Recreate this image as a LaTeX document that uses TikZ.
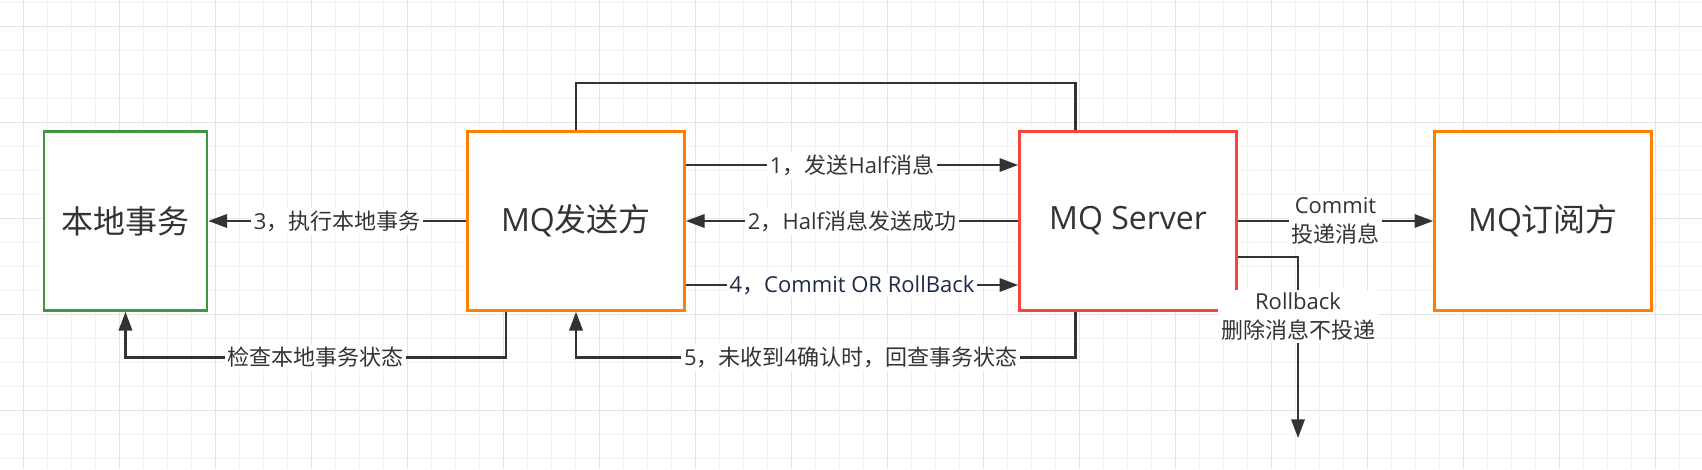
\documentclass[tikz,border=0pt]{standalone}
\usepackage{fontspec}
\setmainfont{Open Sans}
\newfontfamily\cjk{Noto Sans CJK SC}
\usetikzlibrary{arrows.meta}

\definecolor{linie}{RGB}{51,51,51}
\definecolor{gruen}{RGB}{64,150,64}
\definecolor{kastenorange}{RGB}{255,128,0}
\definecolor{rot}{RGB}{245,70,60}
\definecolor{blau}{RGB}{30,42,70}
\definecolor{gitterA}{RGB}{242,242,242}
\definecolor{gitterB}{RGB}{227,227,227}

\tikzset{
  kasten/.style={draw, line width=2pt, fill=white, text=linie, inner sep=0pt,
    minimum width=162.75pt, minimum height=134.25pt,
    font=\fontsize{24}{28}\selectfont},
  lab/.style={fill=white, text=linie, inner sep=2pt,
    font=\fontsize{16.5}{21.5}\selectfont},
  verb/.style={draw=linie, line width=1.7pt},
  pfeil/.style={verb, -{Triangle[length=14pt,width=10pt]}},
  gitter/.style={draw=gitterA, line width=0.75pt},
  gitterfett/.style={draw=gitterB, line width=0.75pt}
}

\begin{document}
\begin{tikzpicture}[x=0.75pt, y=-0.75pt]
		% Hintergrund
		\fill[white] (0,0) rectangle (1702,469);
		\useasboundingbox (0,0) rectangle (1702,469);
		
		% Gitter
		\foreach \i in {0,...,69}
			\draw[gitter] (23.5+24*\i,0) -- (23.5+24*\i,469);
		\foreach \j in {0,...,19}
			\draw[gitter] (0,2.3+24*\j) -- (1702,2.3+24*\j);
		\foreach \i in {0,...,17}
			\draw[gitterfett] (23.5+96*\i,0) -- (23.5+96*\i,469);
		\foreach \j in {0,...,4}
			\draw[gitterfett] (0,26.3+96*\j) -- (1702,26.3+96*\j);
		
		% Kaesten
		\node[kasten, draw=gruen, minimum width=122.25pt] (lokal) at (125.5,221) {\cjk 本地事务};
		\node[kasten, draw=kastenorange] (sender) at (576,221) {MQ{\cjk 发送方}};
		\node[kasten, draw=rot] (server) at (1128,221) {MQ Server};
		\node[kasten, draw=kastenorange] (abo) at (1543,221) {MQ{\cjk 订阅方}};
		
		% Hilfspunkte
		\coordinate (oben) at (1075.5,83);
		\coordinate (lv1) at (0,165);
		\coordinate (lv4) at (0,285);
		\coordinate (rb) at (0,257);
		\coordinate (unten) at (1075.5,357.5);
		\coordinate (pk) at (506,357.5);
		\coordinate (ende) at (1298,438);
		
		% Verbindung oben
		\draw[verb] (sender.north) |- (oben) -- (server.north -| oben);
		
		% Pfeile zwischen Sender und Server
		\draw[pfeil] (sender.east |- lv1) -- node[lab] {1{\cjk ，发送}Half{\cjk 消息}} (server.west |- lv1);
		\draw[pfeil] (server.west) -- node[lab] {2{\cjk ，}Half{\cjk 消息发送成功}} (sender.east);
		\draw[pfeil] (sender.east |- lv4) -- node[lab, text=blau] {4{\cjk ，}Commit OR RollBack} (server.west |- lv4);
		\draw[pfeil] (server.south -| unten) -- (unten) -- node[lab, pos=0.45] {5{\cjk ，未收到}4{\cjk 确认时，回查事务状态}} (sender.south |- unten) -- (sender.south);
		
		% Lokale Transaktion
		\draw[pfeil] (sender.west) -- node[lab] {3{\cjk ，执行本地事务}} (lokal.east);
		\draw[pfeil] (sender.south -| pk) -- (pk) -- node[lab] {\cjk 检查本地事务状态} (lokal.south |- pk) -- (lokal.south);
		
		% Commit und Rollback
		\draw[pfeil] (server.east) -- node[lab, align=center] {Commit\\{\cjk 投递消息}} (abo.west);
		\draw[pfeil] (server.east |- rb) -- (ende |- rb) -- node[lab, align=center, pos=0.33] {Rollback\\{\cjk 删除消息不投递}} (ende);
	\end{tikzpicture}
\end{document}
